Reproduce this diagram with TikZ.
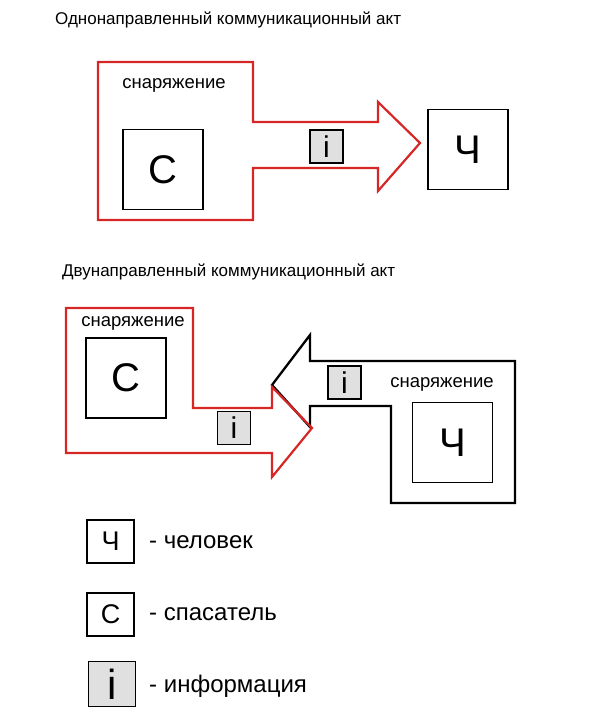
\documentclass[tikz,border=0pt]{standalone}
\usepackage{fontspec}
\setmainfont{Liberation Sans}
\definecolor{gearred}{RGB}{214,38,38}
\definecolor{infogray}{RGB}{224,224,224}

\def \bigLetter {\fontsize{40}{40}\selectfont}
\def \smallLetter {\fontsize{27}{27}\selectfont}

\tikzset{
  gearred/.style={draw=gearred, line width=2.2pt, line join=miter},
  gearblack/.style={draw=black, line width=2.3pt, line join=miter},
  unitbox/.style={draw, line width=1.7pt, minimum width=80pt, minimum height=80pt, inner sep=0pt, font=\bigLetter},
  infobox/.style={draw, fill=infogray, line width=1.3pt, minimum size=33pt, inner sep=0pt, font=\fontsize{30}{30}\selectfont},
  legendbox/.style={draw, line width=1.7pt, minimum width=47pt, minimum height=43pt, inner sep=0pt, font=\smallLetter},
  caption/.style={anchor=west, inner sep=0pt, font=\fontsize{17}{17}\selectfont},
  gearlabel/.style={inner sep=0pt, font=\fontsize{18.5}{18.5}\selectfont},
  legendtext/.style={anchor=west, inner sep=0pt, font=\fontsize{24}{24}\selectfont}
}

\begin{document}
\begin{tikzpicture}[x=1pt, y=-1pt]
   \useasboundingbox (0,0) rectangle (590,718);

   % one-way act
   \node[caption] (title1) at (55,20) {Однонаправленный коммуникационный акт};
   \draw[gearred] (98,62) -- (253,62) -- (253,122) -- (378,122) -- (378,102) -- (420,143)
         -- (378,191) -- (378,168) -- (253,168) -- (253,220) -- (98,220) -- cycle;
   \node[gearlabel] (gear1) at (174,85) {снаряжение};
   \node[unitbox] (rescuer1) at (163,169.5) {С};
   \node[infobox] (info1) at (326.5,146.5) {i};
   \node[unitbox] (human1) at (468,149.5) {Ч};

   % two-way act
   \node[caption] (title2) at (62,272) {Двунаправленный коммуникационный акт};
   \draw[gearblack] (272,385) -- (310,335) -- (310,361) -- (515,361) -- (515,503) -- (391,503)
         -- (391,406) -- (310,406) -- (310,427) -- cycle;
   \draw[gearred] (66,308) -- (193,308) -- (193,408) -- (272,408) -- (272,387) -- (312,428)
         -- (272,477) -- (272,453) -- (66,453) -- cycle;
   \node[gearlabel] (gear2) at (133,323) {снаряжение};
   \node[unitbox] (rescuer2) at (126,378) {С};
   \node[infobox] (info2) at (234,428) {i};
   \node[infobox] (info3) at (344.5,382.5) {i};
   \node[gearlabel] (gear3) at (442,384) {снаряжение};
   \node[unitbox] (human2) at (452.5,442.5) {Ч};

   % legend
   \node[legendbox] (keyhuman) at (110.5,541.5) {Ч};
   \node[legendtext] (texthuman) at (149,542) {- человек};
   \node[legendbox] (keyrescuer) at (110.5,614.5) {С};
   \node[legendtext] (textrescuer) at (149,614) {- спасатель};
   \node[legendbox, fill=infogray, minimum height=45pt, font=\fontsize{42}{42}\selectfont] (keyinfo) at (112,684) {i};
   \node[legendtext] (textinfo) at (149,686) {- информация};
\end{tikzpicture}
\end{document}
